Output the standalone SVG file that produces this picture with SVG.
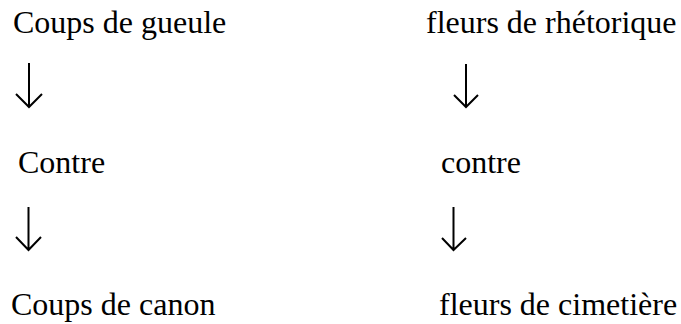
<svg xmlns="http://www.w3.org/2000/svg" width="681" height="324" viewBox="0 0 681 324">
  <style>
    .lbl { font-family: "Liberation Serif", "Times New Roman", serif; font-size: 32px; fill: #000; }
    .arr { fill: none; stroke: #000; stroke-width: 2; stroke-linecap: butt; stroke-linejoin: miter; }
  </style>
  <rect width="681" height="324" fill="#fff"/>

  <g id="coups-de-gueule"><text class="lbl" x="13" y="33">Coups de gueule</text></g>
  <g id="fleurs-de-rhetorique"><text class="lbl" x="426" y="33">fleurs de rhétorique</text></g>
  <g id="contre-left"><text class="lbl" x="18" y="173">Contre</text></g>
  <g id="contre-right"><text class="lbl" x="441" y="173">contre</text></g>
  <g id="coups-de-canon"><text class="lbl" x="11" y="315">Coups de canon</text></g>
  <g id="fleurs-de-cimetiere"><text class="lbl" x="439" y="315">fleurs de cimetière</text></g>

  <g id="connectors">
    <path class="arr" d="M29,63 V106 M16,94 L29,107 L42,94"/>
    <path class="arr" d="M466,64 V106 M454,95 L466,107 L478,95"/>
    <path class="arr" d="M28.5,207 V249 M16,237 L28.5,250 L41,237"/>
    <path class="arr" d="M453.5,207 V249 M442,238 L453.5,250 L466,238"/>
  </g>
</svg>
